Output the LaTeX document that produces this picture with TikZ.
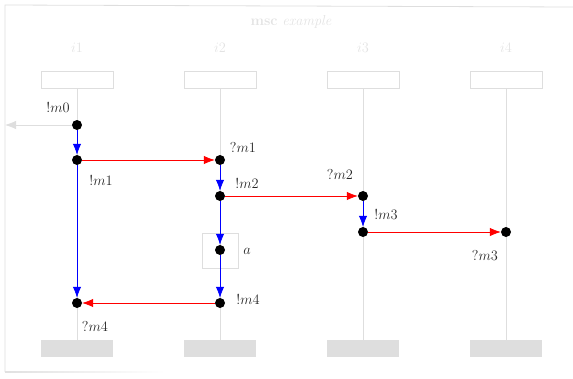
\documentclass[tikz,border=0pt]{standalone}
\usetikzlibrary{arrows.meta}
\begin{document}
\begin{tikzpicture}[x=1pt,y=-1pt,
  faint/.style={draw=black!13, line width=0.8pt},
  lifeline/.style={faint},
  headbox/.style={faint, rectangle, minimum width=72pt, minimum height=17pt, inner sep=0pt},
  endbox/.style={rectangle, fill=black!13, minimum width=72pt, minimum height=17pt, inner sep=0pt},
  ev/.style={circle, fill=black, minimum size=10pt, inner sep=0pt},
  order/.style={draw=blue, line width=0.7pt, -{Latex[length=11pt,width=8.5pt]}},
  msg/.style={draw=red, line width=0.7pt, -{Latex[length=11pt,width=8.5pt]}},
  envmsg/.style={draw=black!13, line width=0.8pt, -{Latex[length=11pt,width=8.5pt]}},
  lbl/.style={font=\fontsize{14.4}{17}\selectfont, text=black!85, inner sep=0pt},
  faintlbl/.style={font=\fontsize{14.4}{17}\selectfont, text=black!11, inner sep=0pt}
]
\useasboundingbox (0,0) rectangle (573,378);

% frame
\draw[faint] (5,372) -- (5,5) -- (573,7);
\shade[left color=black!12, right color=white] (5,371.6) rectangle (165,372.4);

% title and instance names
\node[faintlbl] (title) at (291,22) {\textbf{msc} \textit{example}};
\foreach \i/\x in {1/77,2/220,3/363,4/506}{
  \node[faintlbl] (name\i) at (\x,48) {$i\i$};
  \node[headbox] (head\i) at (\x,79.5) {};
  \node[endbox] (foot\i) at (\x,348.5) {};
  \draw[lifeline] (head\i.south) -- (foot\i.north);
}

% events
\node[ev] (e0) at (77,125) {};
\node[ev] (e1) at (77,160) {};
\node[ev] (e2) at (220,160) {};
\node[ev] (e3) at (220,196) {};
\node[ev] (e4) at (363,196) {};
\node[ev] (e5) at (363,232) {};
\node[ev] (e6) at (506,232) {};
\node[ev] (e7) at (220,250) {};
\node[ev] (e8) at (220,303) {};
\node[ev] (e9) at (77,303) {};
\coordinate (env) at (5,125);

% local action box
\node[faint, rectangle, minimum width=36pt, minimum height=35pt, inner sep=0pt] (act) at (220,250.5) {};

% labels
\node[lbl] (l0) at (58,107) {$!m0$};
\node[lbl] (l1) at (101,180) {$!m1$};
\node[lbl] (l2) at (243,147) {$?m1$};
\node[lbl] (l3) at (247,183) {$!m2$};
\node[lbl] (l4) at (340,174) {$?m2$};
\node[lbl] (l5) at (386,214) {$!m3$};
\node[lbl] (l6) at (485,255) {$?m3$};
\node[lbl] (l7) at (247,251) {$a$};
\node[lbl] (l8) at (248,299) {$!m4$};
\node[lbl] (l9) at (95,326) {$?m4$};

% messages
\draw[envmsg] (e0) -- (env);
\draw[msg] (e1) -- (e2);
\draw[msg] (e3) -- (e4);
\draw[msg] (e5) -- (e6);
\draw[msg] (e8) -- (e9);

% orderings along instances
\draw[order] (e0) -- (e1);
\draw[order] (e1) -- (e9);
\draw[order] (e2) -- (e3);
\draw[order] (e3) -- (e7);
\draw[order] (e7) -- (e8);
\draw[order] (e4) -- (e5);
\end{tikzpicture}
\end{document}
